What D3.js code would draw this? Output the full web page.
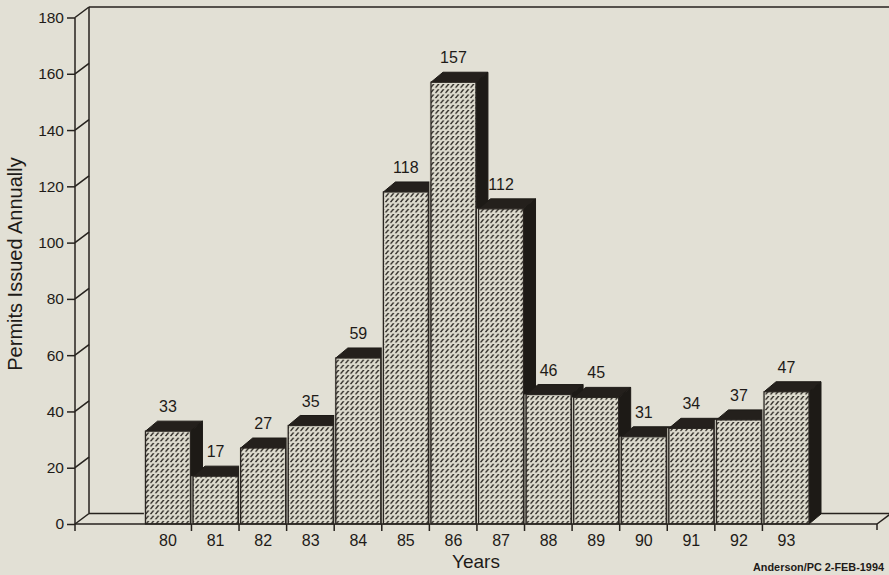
<!DOCTYPE html>
<html>
<head>
<meta charset="utf-8">
<script src="https://cdn.jsdelivr.net/npm/d3@7"></script>
<style>
  html, body { margin: 0; padding: 0; background: #e2e0d5; }
  svg { display: block; }
  text { font-family: "Liberation Sans", Arial, Helvetica, sans-serif; fill: #1e1b18; }
</style>
</head>
<body>
<svg id="chart" width="889" height="575"></svg>
<script>
// Annual permit counts, 1980–1993
const years = ["80", "81", "82", "83", "84", "85", "86", "87", "88", "89", "90", "91", "92", "93"];
const permits = [33, 17, 27, 35, 59, 118, 157, 112, 46, 45, 31, 34, 37, 47];
const yTicks = [0, 20, 40, 60, 80, 100, 120, 140, 160, 180];
const yTitle = "Permits Issued Annually";
const xTitle = "Years";
const credit = "Anderson/PC 2-FEB-1994";

const W = 889, H = 575;
const ink = "#26221e";
const svg = d3.select("#chart");

// Plot frame: front plane of the box and its receding depth
const axisX = 75;          // front vertical axis
const floorRight = 877;    // front edge of the floor, right end
const wallDx = 14, wallDy = -10.5;  // depth of walls / floor
const barDx = 12, barDy = -10;      // depth of each 3-D bar

const y = d3.scaleLinear().domain([0, 180]).range([524, 17.5]);
const x = d3.scaleBand().domain(years).range([145.5, 809]).paddingInner(0.055).paddingOuter(0);

// Hatch fill for the bar fronts
const defs = svg.append("defs");
const pw = 5, ph = 5.2;
const pat = defs.append("pattern")
  .attr("id", "hatch").attr("patternUnits", "userSpaceOnUse")
  .attr("width", pw).attr("height", ph);
pat.append("rect").attr("width", pw).attr("height", ph).attr("fill", "#dedccf");
pat.append("path").attr("d", "M-0.4,4.5 L1.5,4.5 L4.6,0.8 L2.7,0.8 Z").attr("fill", "#34312c");
pat.append("path").attr("d", "M4.6,4.5 L6.5,4.5 L9.6,0.8 L7.7,0.8 Z").attr("fill", "#34312c");

const y0 = y(0), yTop = y(180);

// Back wall and floor outline (behind the bars)
const back = svg.append("g").attr("fill", "none").attr("stroke", ink).attr("stroke-width", 1.5);
back.append("line").attr("x1", axisX + wallDx).attr("y1", yTop + wallDy).attr("x2", W + 2).attr("y2", yTop + wallDy);
back.append("line").attr("x1", axisX + wallDx).attr("y1", yTop + wallDy).attr("x2", axisX + wallDx).attr("y2", y0 + wallDy);
back.append("line").attr("x1", axisX + wallDx).attr("y1", y0 + wallDy).attr("x2", floorRight + wallDx).attr("y2", y0 + wallDy);
back.append("line").attr("x1", floorRight).attr("y1", y0).attr("x2", floorRight + wallDx).attr("y2", y0 + wallDy);
back.append("line").attr("x1", floorRight).attr("y1", y0).attr("x2", floorRight).attr("y2", y0 + 6);
back.append("line").attr("x1", axisX).attr("y1", yTop).attr("x2", axisX).attr("y2", y0 + 7);
back.selectAll(".stub").data(yTicks).join("line").attr("class", "stub")
  .attr("x1", axisX).attr("y1", d => y(d))
  .attr("x2", axisX + wallDx).attr("y2", d => y(d) + wallDy);

// Front y axis with ticks
const yAxisG = svg.append("g").attr("transform", `translate(${axisX},0)`)
  .call(d3.axisLeft(y).tickValues(yTicks).tickSize(8).tickPadding(3).tickSizeOuter(0));
yAxisG.select(".domain").remove();
yAxisG.selectAll(".tick line").attr("stroke", ink).attr("stroke-width", 1.5);
yAxisG.selectAll(".tick text")
  .attr("font-size", 15.5).attr("fill", "#1e1b18")
  .attr("font-family", "Liberation Sans, Arial, sans-serif");

// Bars, drawn left to right so each front covers its neighbour's side face
const bars = svg.append("g");
const bw = x.bandwidth();
years.forEach((yr, i) => {
  const v = permits[i];
  const x0 = x(yr), x1 = x0 + bw, yt = y(v);
  const g = bars.append("g");
  // right side face
  g.append("path")
    .attr("d", `M${x1},${y0} L${x1},${yt} L${x1 + barDx},${yt + barDy} L${x1 + barDx},${y0 + barDy} Z`)
    .attr("fill", "#1d1a16").attr("stroke", "#1d1a16").attr("stroke-width", 1);
  // top face
  g.append("path")
    .attr("d", `M${x0},${yt} L${x1},${yt} L${x1 + barDx},${yt + barDy} L${x0 + barDx},${yt + barDy} Z`)
    .attr("fill", "#24201c").attr("stroke", "#1d1a16").attr("stroke-width", 1);
  // light edge separating neighbours
  g.append("line").attr("x1", x0 - 1).attr("y1", y0).attr("x2", x0 - 1).attr("y2", yt)
    .attr("stroke", "#d8d6c9").attr("stroke-width", 1.2);
  // front face
  g.append("rect").attr("x", x0).attr("y", yt).attr("width", bw).attr("height", y0 - yt)
    .attr("fill", "url(#hatch)").attr("stroke", "#2a2622").attr("stroke-width", 1.3);
});

// Floor front edge over the bar bases
svg.append("line").attr("x1", axisX).attr("y1", y0).attr("x2", floorRight).attr("y2", y0)
  .attr("stroke", ink).attr("stroke-width", 1.6);

// Category dividers below the floor
svg.append("g").selectAll("line").data(years.slice(0, -1)).join("line")
  .attr("x1", d => x(d) + bw + 1).attr("x2", d => x(d) + bw + 1)
  .attr("y1", y0).attr("y2", y0 + 7)
  .attr("stroke", ink).attr("stroke-width", 1.5);

// Year labels
svg.append("g").selectAll("text").data(years).join("text")
  .attr("x", d => x(d) + bw / 2).attr("y", 546)
  .attr("text-anchor", "middle").attr("font-size", 16)
  .text(d => d);

// Value labels above each bar
svg.append("g").selectAll("text").data(permits).join("text")
  .attr("x", (d, i) => x(years[i]) + bw / 2).attr("y", d => y(d) - 19)
  .attr("text-anchor", "middle").attr("font-size", 16)
  .text(d => d);

// Axis titles and credit
svg.append("text").attr("x", 476).attr("y", 568).attr("text-anchor", "middle")
  .attr("font-size", 19).text(xTitle);
svg.append("text").attr("transform", "translate(22,264) rotate(-90)")
  .attr("text-anchor", "middle").attr("font-size", 20).text(yTitle);
svg.append("text").attr("x", 884).attr("y", 571).attr("text-anchor", "end")
  .attr("font-size", 11).attr("font-weight", "bold")
  .attr("textLength", 131).attr("lengthAdjust", "spacingAndGlyphs").text(credit);
</script>
</body>
</html>
